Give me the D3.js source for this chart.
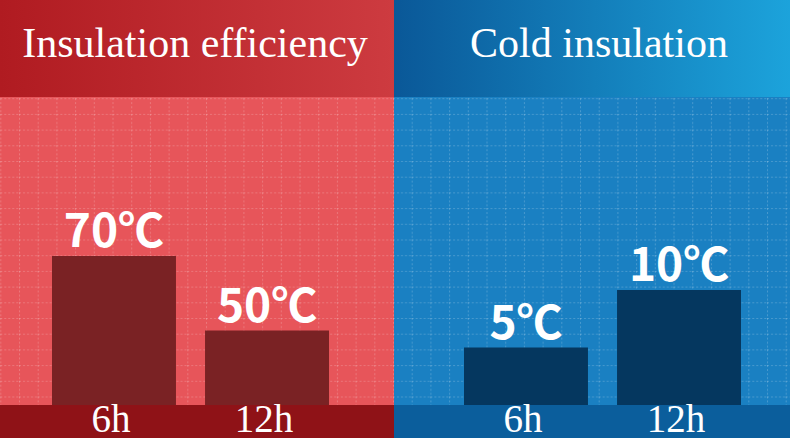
<!DOCTYPE html>
<html>
<head>
<meta charset="utf-8">
<style>
  html, body { margin: 0; padding: 0; background: #fff; }
  svg { display: block; }
  .title { font-family: "Liberation Serif", "DejaVu Serif", serif; fill: #fff; }
  .value { font-family: "Noto Sans CJK SC", "Noto Sans", sans-serif; font-weight: 700; fill: #fff; }
  .cat { font-family: "Liberation Serif", "DejaVu Serif", serif; fill: #fff; }
</style>
</head>
<body>
<div id="chart"></div>
<script src="https://d3js.org/d3.v7.min.js"></script>
<script>
  const titles = ["Insulation efficiency", "Cold insulation"];
  const categories = ["6h", "12h"];
  const hotValues = [70, 50];
  const coldValues = [5, 10];

  const W = 790, H = 444;
  const headH = 97, baseY = 405, bandBottom = 438;

  const svg = d3.select("#chart").append("svg")
    .attr("width", W)
    .attr("height", H);

  const defs = svg.append("defs");

  const grads = [
    { id: "headRed", from: "#b01b21", to: "#cd3b40" },
    { id: "headBlue", from: "#0a5898", to: "#1ca3db" }
  ];
  grads.forEach((g) => {
    const lg = defs.append("linearGradient").attr("id", g.id)
      .attr("x1", 0).attr("x2", 1).attr("y1", 0).attr("y2", 0);
    lg.append("stop").attr("offset", "0%").attr("stop-color", g.from);
    lg.append("stop").attr("offset", "100%").attr("stop-color", g.to);
  });

  // dashed grid tile
  const pat = defs.append("pattern").attr("id", "grid")
    .attr("patternUnits", "userSpaceOnUse")
    .attr("width", 18.7).attr("height", 15.7)
    .attr("x", 0.3).attr("y", 4);
  pat.append("line")
    .attr("x1", 0).attr("x2", 18.7).attr("y1", 0.5).attr("y2", 0.5)
    .attr("stroke", "rgba(255,255,255,0.2)").attr("stroke-width", 1)
    .attr("stroke-dasharray", "2,2");
  pat.append("line")
    .attr("x1", 0.5).attr("x2", 0.5).attr("y1", 0).attr("y2", 15.7)
    .attr("stroke", "rgba(255,255,255,0.2)").attr("stroke-width", 1)
    .attr("stroke-dasharray", "2,2");

  const panels = [
    {
      title: titles[0], values: hotValues, x0: 0, x1: 394,
      head: "url(#headRed)", body: "#e7555a", band: "#8f1217", bar: "#7a2224",
      titleX: 195,
      x: d3.scaleBand().domain(categories).range([52, 329]).paddingInner(0.19),
      y: d3.scaleLinear().domain([30, 70]).range([baseY, 256])
    },
    {
      title: titles[1], values: coldValues, x0: 394, x1: 790,
      head: "url(#headBlue)", body: "#1a80c2", band: "#0b5e9c", bar: "#05375f",
      titleX: 599,
      x: d3.scaleBand().domain(categories).range([464, 741]).paddingInner(0.19),
      y: d3.scaleLinear().domain([0, 10]).range([baseY, 290])
    }
  ];

  panels.forEach((p) => {
    const g = svg.append("g");
    const pw = p.x1 - p.x0;

    g.append("rect").attr("x", p.x0).attr("y", 0)
      .attr("width", pw).attr("height", headH).attr("fill", p.head);
    g.append("rect").attr("x", p.x0).attr("y", headH)
      .attr("width", pw).attr("height", baseY - headH).attr("fill", p.body);
    g.append("rect").attr("x", p.x0).attr("y", headH)
      .attr("width", pw).attr("height", baseY - headH).attr("fill", "url(#grid)");
    g.append("rect").attr("x", p.x0).attr("y", baseY)
      .attr("width", pw).attr("height", bandBottom - baseY).attr("fill", p.band);

    g.append("text").attr("class", "title")
      .attr("x", p.titleX).attr("y", 57)
      .attr("text-anchor", "middle")
      .attr("font-size", 42)
      .text(p.title);

    const rows = categories.map((c, i) => ({ cat: c, value: p.values[i] }));

    g.selectAll("rect.bar").data(rows).enter().append("rect")
      .attr("class", "bar")
      .attr("x", (d) => p.x(d.cat))
      .attr("y", (d) => p.y(d.value))
      .attr("width", p.x.bandwidth())
      .attr("height", (d) => baseY - p.y(d.value))
      .attr("fill", p.bar);

    g.selectAll("text.value").data(rows).enter().append("text")
      .attr("class", "value")
      .attr("x", (d) => p.x(d.cat) + p.x.bandwidth() / 2)
      .attr("y", (d) => p.y(d.value) - 9)
      .attr("text-anchor", "middle")
      .attr("font-size", 46)
      .text((d) => d.value + "℃");

    g.selectAll("text.cat").data(rows).enter().append("text")
      .attr("class", "cat")
      .attr("x", (d) => p.x(d.cat) + p.x.bandwidth() / 2 - 3)
      .attr("y", 432)
      .attr("text-anchor", "middle")
      .attr("font-size", 39)
      .text((d) => d.cat);
  });
</script>
</body>
</html>
